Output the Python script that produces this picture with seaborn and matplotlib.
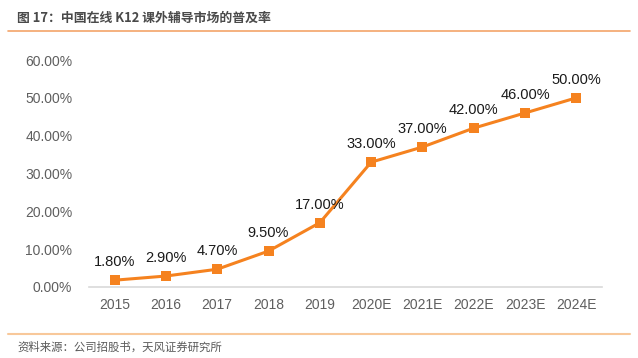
import matplotlib
matplotlib.use("Agg")
import matplotlib.pyplot as plt
from matplotlib.lines import Line2D
import seaborn as sns
import pandas as pd

years = ["2015", "2016", "2017", "2018", "2019", "2020E", "2021E", "2022E", "2023E", "2024E"]
rates = [1.8, 2.9, 4.7, 9.5, 17.0, 33.0, 37.0, 42.0, 46.0, 50.0]
yticks = [0, 10, 20, 30, 40, 50, 60]

title = "图 17：中国在线 K12 课外辅导市场的普及率"
source = "资料来源：公司招股书，天风证券研究所"

sns.set_theme(style="white")
plt.rcParams['font.family'] = ['Liberation Sans', 'Noto Sans CJK SC', 'DejaVu Sans']

df = pd.DataFrame({"idx": range(len(years)), "year": years, "rate": rates})

fig = plt.figure(figsize=(6.38, 3.58), dpi=100)
ax = fig.add_axes([89/638, 1-287/358, (602-89)/638, (287-60)/358])

orange = "#F5821F"
sns.lineplot(data=df, x="idx", y="rate", ax=ax, color=orange, linewidth=2.2,
             marker="s", markersize=7.5, markeredgecolor=orange, markeredgewidth=0)

for i, v in enumerate(rates):
    ax.annotate(f"{v:.2f}%", (i, v), xytext=(0, 8), textcoords="offset points",
                ha="center", va="bottom", fontsize=10.5, color="#1a1a1a")

ax.set_xlim(-0.5, len(years) - 0.5)
ax.set_ylim(0, 60)
ax.set_xticks(range(len(years)))
ax.set_xticklabels(years)
ax.set_yticks(yticks)
ax.set_yticklabels([f"{t:.2f}%" for t in yticks])
ax.tick_params(axis="both", colors="#5f5f5f", labelsize=10, length=0, pad=8)
ax.tick_params(axis="y", pad=12)
ax.set_xlabel("")
ax.set_ylabel("")
for s in ["top", "right", "left"]:
    ax.spines[s].set_visible(False)
ax.spines["bottom"].set_color("#d9d9d9")
ax.spines["bottom"].set_linewidth(1.2)
ax.grid(False)

fig.text(17/638, 1-18/358, title, fontsize=9.3, fontweight="bold", color="#4a4a4a",
         ha="left", va="center", family=['Noto Sans CJK SC', 'DejaVu Sans'])
fig.add_artist(Line2D([8/638, 630/638], [1-31/358, 1-31/358], color="#F4A46A", linewidth=1.2))
fig.add_artist(Line2D([8/638, 630/638], [1-334/358, 1-334/358], color="#F8C89A", linewidth=1.5))
fig.text(17/638, 1-347/358, source, fontsize=8.2, color="#595959",
         ha="left", va="center", family=['Noto Sans CJK SC', 'DejaVu Sans'])

fig.savefig("out.png", dpi=100)
